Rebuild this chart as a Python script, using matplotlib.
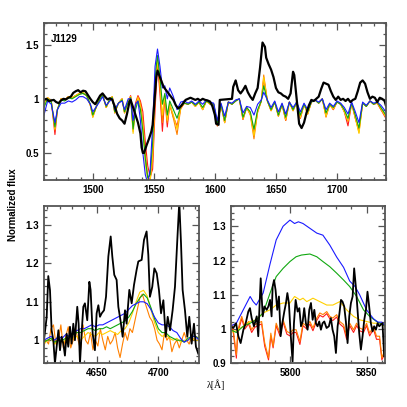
import matplotlib
matplotlib.use("Agg")
import matplotlib.pyplot as plt
from matplotlib.ticker import MultipleLocator

plt.rcParams['font.family'] = ['Liberation Sans', 'DejaVu Sans']
plt.rcParams['font.weight'] = 'bold'

# ---- UV panel: CIV 1550 / HeII 1640 ----
wl_uv_obs = [1460,1462,1464,1466,1468,1470,1472,1474,1476,1478,
             1480,1482,1484,1486,1488,1490,1492,1494,1496,1498,
             1500,1502,1504,1506,1508,1510,1512,1514,1516,1518,
             1520,1522,1524,1526,1528,1530,1531,1533,1535,1537,
             1539,1540,1541,1542,1544,1546,1548,1549,1550,1551,
             1552,1553,1554,1556,1558,1560,1562,1564,1566,1568,
             1570,1572,1574,1576,1578,1580,1582,1584,1586,1588,
             1590,1592,1594,1596,1598,1600,1601,1603,1604,1614,
             1615,1617,1619,1621,1623,1625,1627,1629,1631,1633,
             1635,1637,1639,1641,1642,1644,1646,1648,1650,1652,
             1654,1656,1658,1660,1662,1664,1665,1667,1669,1671,
             1673,1675,1677,1679,1681,1683,1685,1687,1689,1691,
             1693,1695,1697,1699,1701,1703,1705,1707,1709,1711,
             1713,1715,1717,1719,1721,1723,1725,1727,1729,1731,
             1733,1735,1737,1739,1740]
fl_uv_obs = [0.99,1.0,0.98,0.985,0.99,0.97,0.96,0.985,1.0,0.995,
             1.01,1.02,1.055,1.07,1.08,1.06,1.075,1.07,1.035,1.0,
             0.97,0.95,0.99,1.03,1.05,1.02,0.995,1.005,0.99,0.93,
             0.86,0.82,0.8,0.77,0.86,0.97,0.99,0.92,0.85,0.78,
             0.68,0.55,0.5,0.5,0.57,0.63,0.7,0.76,0.9,1.05,
             1.2,1.26,1.23,1.17,1.11,1.08,1.05,1.02,0.99,0.94,
             0.91,0.93,0.96,0.99,1.0,1.01,1.0,0.99,1.0,0.985,
             1.0,0.99,0.985,0.975,0.93,0.85,0.77,0.76,0.99,1.0,
             1.11,1.17,1.08,1.05,1.08,1.12,1.06,1.02,0.99,1.05,
             1.1,1.29,1.52,1.48,1.38,1.32,1.27,1.2,1.1,1.06,
             1.05,1.03,1.02,1.0,1.05,1.25,1.22,1.0,0.77,0.73,
             0.78,0.87,0.94,0.99,0.98,1.0,1.02,1.09,1.15,1.14,
             1.13,1.07,1.02,0.99,1.02,0.99,1.0,0.98,1.0,0.97,
             0.99,1.0,1.07,1.15,1.17,1.14,1.06,1.0,1.02,1.01,
             0.97,1.01,1.0,0.98,0.94]

wl_uv_mod = [1460,1463,1466,1469,1471,1474,1477,1480,1483,1486,
             1489,1492,1495,1498,1500,1503,1506,1508,1511,1514,
             1516,1518,1521,1524,1526,1529,1531,1533,1535,1537,
             1539,1541,1543,1545,1547,1549,1551,1553,1555,1557,
             1559,1561,1563,1566,1569,1572,1575,1578,1581,1584,
             1587,1590,1593,1596,1599,1602,1605,1608,1611,1614,
             1617,1620,1623,1626,1629,1632,1635,1638,1640,1643,
             1646,1649,1652,1655,1658,1661,1664,1667,1670,1673,
             1676,1679,1682,1685,1688,1691,1694,1697,1700,1703,
             1706,1709,1712,1715,1718,1721,1724,1727,1730,1733,
             1736,1740]
uv_red = [0.96,1.01,0.98,0.67,0.9,1.0,0.99,1.02,1.01,1.03,
          1.05,1.05,1.03,0.94,0.84,0.93,1.01,1.04,0.92,1.0,
          1.02,0.87,0.96,1.0,0.87,0.98,1.03,0.75,0.96,1.03,
          0.98,0.88,0.6,0.38,0.28,0.35,0.9,1.33,1.05,0.7,
          1.02,0.74,0.95,0.83,0.75,0.91,0.96,0.95,0.97,0.93,
          0.97,0.9,0.98,0.95,0.95,0.75,0.95,0.78,0.97,0.95,
          0.98,1.0,0.81,0.92,0.86,0.68,0.88,0.98,1.18,0.98,
          0.89,0.97,0.84,0.95,0.8,0.97,0.89,0.97,0.82,0.95,
          0.86,0.97,0.99,0.96,1.0,0.84,0.95,0.9,0.97,0.95,
          0.88,0.75,0.96,0.82,0.71,0.96,0.93,0.98,0.95,0.96,
          0.9,0.82]
uv_orange = [0.96,1.01,0.98,0.71,0.9,1.0,0.99,1.02,1.01,1.03,
             1.05,1.06,1.03,0.94,0.83,0.93,1.01,1.05,0.92,1.0,
             1.02,0.87,0.96,1.0,0.87,0.98,1.02,0.7,0.94,1.02,
             0.96,0.8,0.5,0.28,0.25,0.42,1.0,1.36,1.1,0.78,
             1.03,0.78,0.95,0.82,0.67,0.91,0.96,0.95,0.97,0.93,
             0.97,0.9,0.98,0.95,0.95,0.75,0.95,0.78,0.97,0.95,
             0.98,1.0,0.81,0.92,0.85,0.63,0.88,0.98,1.22,0.98,
             0.89,0.97,0.84,0.95,0.8,0.97,0.89,0.97,0.82,0.95,
             0.86,0.97,0.99,0.96,1.0,0.83,0.95,0.9,0.97,0.95,
             0.88,0.79,0.96,0.82,0.69,0.96,0.93,0.98,0.95,0.96,
             0.9,0.84]
uv_yellow = [0.95,1.01,0.98,0.72,0.9,1.0,0.99,1.02,1.01,1.03,
             1.05,1.06,1.03,0.94,0.83,0.93,1.01,1.04,0.92,1.0,
             1.02,0.87,0.96,1.0,0.87,0.98,1.02,0.68,0.92,1.01,
             0.93,0.75,0.4,0.25,0.25,0.5,1.1,1.38,1.15,0.85,
             1.03,0.8,0.95,0.85,0.72,0.92,0.96,0.95,0.97,0.93,
             0.97,0.9,0.98,0.95,0.95,0.76,0.95,0.78,0.97,0.95,
             0.98,1.0,0.82,0.92,0.86,0.66,0.88,0.98,1.2,0.98,
             0.89,0.97,0.84,0.95,0.81,0.97,0.89,0.97,0.83,0.95,
             0.86,0.97,0.99,0.96,1.0,0.84,0.95,0.91,0.97,0.95,
             0.88,0.8,0.96,0.83,0.68,0.96,0.93,0.98,0.95,0.97,
             0.91,0.83]
uv_green = [0.92,1.0,0.97,0.74,0.9,0.99,0.98,1.01,1.0,1.02,
            1.04,1.05,1.03,0.95,0.85,0.93,1.0,1.03,0.93,1.0,
            1.01,0.88,0.96,0.99,0.88,0.97,1.01,0.72,0.9,0.98,
            0.9,0.7,0.45,0.27,0.3,0.6,1.2,1.4,1.2,0.95,
            1.05,0.85,0.98,0.9,0.82,0.93,0.96,0.95,0.97,0.94,
            0.97,0.92,0.98,0.96,0.95,0.77,0.95,0.8,0.97,0.95,
            0.98,1.0,0.83,0.92,0.88,0.72,0.9,0.98,1.12,0.98,
            0.9,0.97,0.85,0.95,0.83,0.97,0.9,0.97,0.85,0.95,
            0.88,0.97,0.99,0.96,1.0,0.87,0.95,0.92,0.97,0.95,
            0.9,0.82,0.96,0.85,0.73,0.96,0.93,0.98,0.95,0.97,
            0.92,0.85]
uv_blue = [0.85,0.98,0.95,0.78,0.9,0.96,0.96,0.98,0.97,0.99,
           1.02,1.02,1.0,0.95,0.88,0.93,0.98,1.02,0.94,0.98,
           1.0,0.9,0.96,0.98,0.9,1.0,1.0,0.8,0.95,0.98,
           0.8,0.5,0.3,0.22,0.35,0.75,1.3,1.46,1.3,1.1,
           1.12,1.0,1.1,1.02,0.9,0.97,0.98,0.96,0.98,0.95,
           0.98,0.95,0.99,0.97,0.96,0.8,0.96,0.84,0.97,0.96,
           0.99,1.0,0.87,0.93,0.92,0.85,0.95,0.99,1.06,0.99,
           0.92,0.98,0.88,0.96,0.86,0.97,0.92,0.97,0.88,0.96,
           0.9,0.98,0.99,0.97,1.0,0.9,0.96,0.93,0.98,0.96,
           0.92,0.86,0.97,0.88,0.78,0.97,0.94,0.98,0.96,0.97,
           0.94,0.88]

# ---- HeII 4686 panel ----
wl_he_obs = [4607.3,4609.5,4610.8,4612.2,4613.5,4614.9,4616.2,4617.6,4619,4620.3,
             4621.6,4623,4624.3,4625.7,4627,4628.4,4629.7,4631.1,4632.4,4634.3,
             4635.4,4636.5,4637.8,4639.2,4640.5,4642.4,4644.1,4645.1,4646.8,4648.6,
             4650,4651.4,4652.7,4654.1,4656,4657.6,4659.5,4661.4,4662.7,4664.3,
             4666.2,4667.6,4669.5,4671.1,4673,4674.3,4676.5,4678.4,4680.3,4682.4,
             4683.8,4686.5,4688.4,4690.5,4691.9,4693.2,4695.1,4696.8,4698.7,4700.5,
             4702.2,4704.1,4706,4707.6,4709.5,4711.6,4713.5,4715.4,4717,4718.4,
             4719.7,4721.6,4723.5,4725.1,4727,4728.9,4730.5,4732.4]
fl_he_obs = [1.0,1.06,1.167,1.13,1.026,1.0,0.94,0.983,1.026,0.974,
             1.009,0.991,0.96,1.017,0.983,1.035,0.991,1.043,1.0,1.087,
             1.043,0.94,1.017,1.087,1.096,1.052,1.152,1.131,1.017,0.974,
             1.07,1.091,1.061,1.07,1.078,1.113,1.218,1.27,1.218,1.17,
             1.157,1.087,1.048,1.009,1.078,1.043,1.131,1.096,1.144,1.183,
             1.205,1.209,1.261,1.283,1.222,1.113,1.139,1.187,1.174,1.131,
             1.07,1.104,1.009,1.061,1.026,1.078,1.139,1.261,1.36,1.252,
             1.131,1.078,1.009,1.061,0.991,1.043,0.983,0.965]

wl_he_mod = [4607,4610,4613,4616,4619,4622,4625,4628,4631,4634,
             4637,4640,4643,4646,4649,4652,4655,4658,4661,4664,
             4667,4670,4673,4676,4679,4682,4685,4688,4691,4694,
             4697,4700,4703,4706,4709,4712,4715,4718,4721,4724,
             4727,4730,4733]
he_yellow = [0.99,1.0,1.005,0.99,1.005,0.995,1.0,1.0,1.005,1.01,
             1.0,1.01,1.02,1.015,1.01,1.02,1.015,1.02,1.025,1.02,
             1.015,1.025,1.03,1.045,1.07,1.1,1.125,1.13,1.115,1.08,
             1.045,1.02,1.01,1.015,1.005,1.0,1.005,0.995,1.0,1.0,
             1.005,1.0,1.0]
he_green = [0.995,1.0,1.005,0.995,1.0,1.0,1.005,1.01,1.015,1.02,
            1.02,1.025,1.03,1.03,1.025,1.03,1.03,1.035,1.03,1.035,
            1.04,1.045,1.05,1.06,1.075,1.095,1.11,1.12,1.11,1.085,
            1.055,1.03,1.02,1.02,1.01,1.005,1.0,1.0,0.995,1.005,
            1.01,1.01,1.005]
he_blue = [1.0,1.005,1.01,1.0,1.01,1.005,1.015,1.01,1.02,1.025,
           1.03,1.03,1.035,1.04,1.035,1.04,1.04,1.045,1.05,1.055,
           1.06,1.065,1.07,1.08,1.09,1.095,1.1,1.1,1.095,1.08,
           1.06,1.045,1.04,1.04,1.035,1.025,1.02,1.005,0.995,1.0,
           1.01,1.01,1.0]
wl_he_orange = [4607,4609,4611,4613,4615,4617,4619,4621,4623,4625,
                4627,4629,4631,4633,4635,4637,4639,4641,4643,4645,
                4647,4649,4651,4653,4655,4657,4659,4661,4663,4665,
                4667,4669,4671,4673,4675,4677,4679,4681,4683,4685,
                4687,4689,4691,4693,4695,4697,4699,4701,4703,4705,
                4707,4709,4711,4713,4715,4717,4719,4721,4723,4725,
                4727,4729,4731,4733]
he_orange = [0.985,1.0,0.99,1.03,1.04,0.99,1.0,1.04,0.98,1.01,
             1.035,0.98,1.0,1.03,1.0,0.975,1.04,1.0,0.99,1.02,
             0.975,1.0,0.985,1.03,1.0,0.975,1.01,0.99,1.0,1.02,
             0.98,0.955,0.99,1.02,1.0,1.03,1.02,1.05,1.08,1.11,
             1.12,1.1,1.08,1.06,1.05,1.03,1.0,0.99,0.975,1.02,
             1.0,1.01,0.97,0.99,1.0,0.98,1.0,1.02,1.0,0.99,
             1.01,1.0,1.01,1.0]

# ---- CIV 5808 panel ----
wl_wr_obs = [5761.3,5763,5764.8,5766.3,5767.8,5769.6,5771.1,5772.8,5773.9,5775,
             5776.5,5778.3,5779.3,5780.9,5782.2,5783.3,5784.8,5785.9,5787,5788,
             5788.7,5789.6,5790.6,5791.7,5792.8,5793.9,5795,5796.3,5797.4,5798.3,
             5799.3,5800.4,5801.7,5802.6,5803.7,5805,5806.1,5807.2,5808.3,5809.3,
             5810.4,5811.5,5812.6,5813.7,5814.8,5815.9,5816.9,5818,5819.1,5820.2,
             5821.3,5822.4,5823.9,5825.4,5826.7,5827.8,5828.9,5830,5831.1,5832.2,
             5833.3,5834.3,5835.4,5836.5,5837.6,5838.7,5839.8,5840.9,5841.9,5843,
             5844.1,5845.2,5846.3,5847.4,5848.5,5849.6,5850.6,5851.7,5852.8,5853.9,
             5855,5856.1,5857.2,5858.3,5859.3,5860.4,5861.5]
fl_wr_obs = [1.008,1.003,1.017,0.979,0.959,0.998,1.017,1.051,1.061,1.032,
             1.008,1.037,0.979,1.148,1.037,1.066,1.056,1.066,1.085,1.037,
             1.124,1.143,1.114,1.056,1.095,0.979,1.017,1.051,1.076,1.105,
             1.076,0.988,0.905,1.017,1.085,1.051,1.061,1.008,1.022,1.061,
             1.017,0.998,1.056,1.076,1.027,1.056,1.017,1.008,1.022,0.998,
             1.017,1.022,1.003,1.008,1.032,0.998,0.979,0.93,1.008,1.042,
             1.085,1.08,1.066,1.022,0.959,1.037,1.076,1.095,1.177,1.124,
             1.056,0.988,0.94,0.979,1.027,1.056,1.109,1.066,1.017,0.993,
             1.008,0.998,1.017,1.008,1.013,1.017,0.921]

wl_wr_noisy = [5761,5763,5765,5766,5768.5,5770.5,5773,5775,5777,5779,
               5781.5,5783.5,5786,5787.5,5789,5791,5793.5,5795.5,5798,5800,
               5802,5804,5806.5,5808.5,5811,5813,5815,5817.5,5819.5,5821.5,
               5824,5826,5828,5830.5,5832.5,5835,5837,5839,5841.5,5843.5,
               5845.5,5848,5850,5852,5854.5,5856.5,5858.5,5860,5862]
wr_red = [1.02,0.99,0.915,0.99,1.03,1.0,1.015,0.99,1.005,1.01,
          1.015,0.95,0.91,0.98,0.945,1.01,0.98,1.02,0.985,0.98,
          0.99,0.99,0.955,1.01,1.0,1.015,0.995,1.025,1.04,1.035,
          1.045,1.03,1.025,1.035,1.015,1.005,0.97,1.01,0.99,1.01,
          0.995,0.99,1.01,0.98,1.0,0.97,0.97,0.91,0.93]
wr_orange = [1.03,0.998,0.925,0.998,1.037,1.008,1.022,0.998,1.013,1.017,
             1.022,0.96,0.916,0.988,0.95,1.017,0.988,1.027,0.993,0.988,
             0.998,0.998,0.964,1.017,1.008,1.022,1.003,1.032,1.047,1.042,
             1.051,1.037,1.032,1.042,1.022,1.013,0.979,1.017,0.998,1.017,
             1.003,0.998,1.017,0.988,1.008,0.979,0.979,0.916,0.94]
wl_wr_yellow = [5761,5765,5769.5,5774,5778,5782.5,5787,5791,5795.5,5800,
                5803,5806.5,5808.5,5811,5815,5819.5,5824,5828,5832.5,5837,
                5841.5,5845.5,5850,5854.5,5858.5,5862]
wr_yellow = [0.99,0.995,1.008,1.022,1.027,1.047,1.056,1.07,1.076,1.076,
             1.095,1.085,1.09,1.08,1.09,1.08,1.07,1.07,1.08,1.056,
             1.037,1.027,1.022,1.017,1.017,1.008]
wl_wr_green = [5761,5765,5769.5,5774,5778,5782.5,5787,5791,5795.5,5800,
               5804,5807.5,5813,5817.5,5821.5,5826,5830.5,5835,5839,5843.5,
               5848,5852,5856.5,5862]
wr_green = [0.998,0.99,1.008,1.017,1.027,1.047,1.105,1.153,1.177,1.197,
            1.211,1.216,1.219,1.211,1.197,1.182,1.163,1.143,1.124,1.095,
            1.056,1.037,1.022,1.01]
wl_wr_blue = [5761,5765,5769.5,5774,5776,5778,5782.5,5787,5791,5795.5,
              5800,5803,5805.5,5808.5,5813,5817.5,5821.5,5826,5830.5,5835,
              5839,5842.5,5845.5,5850,5854.5,5857.5,5860,5862]
wr_blue = [1.008,1.017,1.056,1.095,1.08,1.07,1.105,1.19,1.26,1.30,
           1.318,1.308,1.313,1.308,1.294,1.28,1.274,1.245,1.21,1.18,
           1.14,1.124,1.10,1.056,1.03,1.02,1.02,1.01]

c_red, c_orange, c_yellow, c_green, c_blue = '#ff1a1a', '#ff8000', '#ffd000', '#10a810', '#1a1aff'
frame = '#555555'


def yfmt(v, pos):
    return ('%.1f' % v).rstrip('0').rstrip('.')


def style(ax, xmaj, xmin, ymaj, ymin):
    ax.xaxis.set_major_locator(MultipleLocator(xmaj))
    ax.xaxis.set_minor_locator(MultipleLocator(xmin))
    ax.yaxis.set_major_locator(MultipleLocator(ymaj))
    ax.yaxis.set_minor_locator(MultipleLocator(ymin))
    ax.yaxis.set_major_formatter(plt.FuncFormatter(yfmt))
    ax.tick_params(which='both', direction='in', top=True, right=True,
                   colors=frame, labelcolor='black', labelsize=7, width=0.9)
    ax.tick_params(which='major', length=5)
    ax.tick_params(which='minor', length=2.5)
    for s in ax.spines.values():
        s.set_color(frame)
        s.set_linewidth(1.3)


fig = plt.figure(figsize=(4.07, 4.07), dpi=100)

ax1 = fig.add_axes([0.108, 0.5577, 0.840, 0.3857])
ax1.plot(wl_uv_mod, uv_red, color=c_red, lw=0.8)
ax1.plot(wl_uv_mod, uv_orange, color=c_orange, lw=0.8)
ax1.plot(wl_uv_mod, uv_yellow, color=c_yellow, lw=0.8)
ax1.plot(wl_uv_mod, uv_green, color=c_green, lw=0.8)
ax1.plot(wl_uv_mod, uv_blue, color=c_blue, lw=0.8)
ax1.plot(wl_uv_obs, fl_uv_obs, color='black', lw=1.6)
ax1.set_xlim(1460, 1740)
ax1.set_ylim(0.25, 1.7)
style(ax1, 50, 10, 0.5, 0.1)
ax1.text(0.02, 0.93, 'J1129', transform=ax1.transAxes, fontsize=7,
         va='top', ha='left')

ax2 = fig.add_axes([0.108, 0.1074, 0.381, 0.3872])
ax2.plot(wl_he_orange, he_orange, color=c_orange, lw=0.8)
ax2.plot(wl_he_mod, he_yellow, color=c_yellow, lw=0.8)
ax2.plot(wl_he_mod, he_green, color=c_green, lw=0.8)
ax2.plot(wl_he_mod, he_blue, color=c_blue, lw=0.8)
ax2.plot(wl_he_obs, fl_he_obs, color='black', lw=1.3)
ax2.set_xlim(4607.3, 4733)
ax2.set_ylim(0.94, 1.35)
style(ax2, 50, 10, 0.1, 0.02)

ax3 = fig.add_axes([0.5668, 0.1074, 0.379, 0.3872])
ax3.plot(wl_wr_noisy, wr_red, color=c_red, lw=0.8)
ax3.plot(wl_wr_noisy, wr_orange, color=c_orange, lw=0.8)
ax3.plot(wl_wr_yellow, wr_yellow, color=c_yellow, lw=0.8)
ax3.plot(wl_wr_green, wr_green, color=c_green, lw=0.8)
ax3.plot(wl_wr_blue, wr_blue, color=c_blue, lw=0.8)
ax3.plot(wl_wr_obs, fl_wr_obs, color='black', lw=1.3)
ax3.set_xlim(5761.3, 5862)
ax3.set_ylim(0.9, 1.36)
style(ax3, 50, 10, 0.1, 0.02)

fig.text(0.033, 0.496, 'Normalized flux', rotation=90, fontsize=7,
         ha='center', va='center')
fig.text(0.53, 0.054, 'λ[Å]', fontsize=7, fontweight='normal',
         family=['Liberation Serif', 'DejaVu Serif'], ha='center', va='center')

fig.savefig('out.png', dpi=100)
